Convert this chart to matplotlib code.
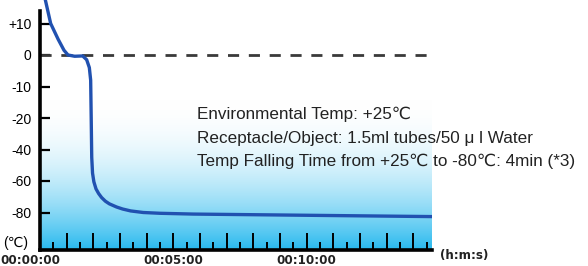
import numpy as np
import matplotlib
matplotlib.use("Agg")
import matplotlib.pyplot as plt
from matplotlib.colors import to_rgb
from matplotlib.ticker import FixedLocator, FuncFormatter, MultipleLocator
import matplotlib.transforms as mtransforms

# ---- data ----
time_min = [0.0, 0.2, 0.4, 0.68, 0.9, 1.05, 1.3, 1.6, 1.75, 1.85, 1.9, 1.92,
            1.94, 1.97, 2.02, 2.1, 2.2, 2.31, 2.45, 2.6, 2.87, 3.1, 3.4, 3.87,
            4.5, 5.75, 9.1, 14.7]
temp_c = [25.0, 17.5, 10.0, 5.0, 1.5, 0.0, -0.4, -0.3, -1.5, -4.0, -8.0, -20.0,
          -45.0, -55.0, -60.5, -65.0, -68.0, -70.5, -72.8, -74.5, -76.5, -77.8,
          -79.0, -80.0, -80.5, -81.0, -81.6, -82.6]
ytick_values = [10, 0, -10, -20, -40, -60, -80]
ytick_labels = ["+10", "0", "-10", "-20", "-40", "-60", "-80"]
xlabel_values = [0, 5, 10]
xtick_labels = ["00:00:00", "00:05:00", "00:10:00"]
info_lines = ["Environmental Temp: +25\u2103",
              "Receptacle/Object: 1.5ml tubes/50 \u03bc l Water",
              "Temp Falling Time from +25\u2103 to -80\u2103: 4min (*3)"]

FONT = ["Liberation Sans", "DejaVu Sans"]
plt.rcParams["font.family"] = FONT


def fwd(t):
    t = np.asarray(t, dtype=float)
    return np.where(t >= -20, t / 10.0, -2.0 + (t + 20.0) / 20.0)


def inv(u):
    u = np.asarray(u, dtype=float)
    return np.where(u >= -2, u * 10.0, -20.0 + (u + 2.0) * 20.0)


W, H = 588, 266
fig = plt.figure(figsize=(W / 100, H / 100), dpi=100)
ax = fig.add_axes([40 / W, (H - 250) / H, (432 - 40) / W, 250 / H])
ax.set_yscale("function", functions=(fwd, inv))

ytop = float(inv(55 / 31.5))
ybot = float(inv(-(250 - 55) / 31.5))

# gradient background
n = 256
f = np.linspace(0, 1, n)[:, None]  # 0 bottom -> 1 top
w = np.clip((0.6 - f) / 0.6, 0, 1) ** 2
cyan = np.array(to_rgb("#28B9EE"))
img = (1 - w)[..., None] * np.ones(3) + w[..., None] * cyan
img = np.repeat(img, 2, axis=1)
ax.imshow(img, extent=[0, 1, 0, 1], transform=ax.transAxes, aspect="auto",
          origin="lower", zorder=0, interpolation="bilinear")
ax.set_xlim(0, 14.7)
ax.set_ylim(ybot, ytop)

# zero dashed line
ax.axhline(0, color="#3a3a3a", lw=2.0, dashes=(4, 3.5), zorder=2)

# curve
ax.plot(time_min, temp_c, color="#2151B0", lw=2.4, zorder=3,
        solid_capstyle="round", solid_joinstyle="round")

# spines
for s in ["top", "right"]:
    ax.spines[s].set_visible(False)
ax.spines["left"].set_linewidth(2.6)
ax.spines["bottom"].set_linewidth(2.6)
ax.spines["left"].set_bounds(ybot, 14.0)
ax.spines["left"].set_zorder(4)
ax.spines["bottom"].set_zorder(4)

# y ticks
ax.yaxis.set_major_locator(FixedLocator(ytick_values))
ax.yaxis.set_minor_locator(FixedLocator([]))
ax.set_yticks(ytick_values)
ax.set_yticklabels(ytick_labels)
ax.tick_params(axis="y", direction="in", length=7, width=1.6, pad=6,
               labelsize=10, colors="black")

# x ticks
ax.xaxis.set_major_locator(MultipleLocator(1))
ax.xaxis.set_minor_locator(MultipleLocator(0.5))


def xfmt(v, pos):
    for val, lab in zip(xlabel_values, xtick_labels):
        if abs(v - val) < 1e-6:
            return lab
    return ""


ax.xaxis.set_major_formatter(FuncFormatter(xfmt))
ax.tick_params(axis="x", which="major", direction="in", length=12, width=1.4,
               pad=3)
ax.tick_params(axis="x", which="minor", direction="in", length=6, width=1.4)
for lab in ax.get_xticklabels():
    lab.set_fontfamily(["DejaVu Sans"])
    lab.set_fontweight("bold")
    lab.set_fontsize(8.6)
    lab.set_color("#222222")

fig.canvas.draw()
for lab in ax.get_xticklabels():
    if lab.get_text() == xtick_labels[0]:
        lab.set_transform(lab.get_transform() +
                          mtransforms.ScaledTranslation(-10 / 100, 0, fig.dpi_scale_trans))

# axis unit labels
fig.text(3 / W, 1 - 243 / H, "(\u2103)", fontsize=10, va="center", ha="left")
fig.text(440 / W, 1 - 256 / H, "(h:m:s)", fontsize=8.6, va="center", ha="left",
         fontweight="bold", family=["DejaVu Sans"], color="#222222")

# info text
for i, line in enumerate(info_lines):
    fig.text(197 / W, 1 - (114.5 + 23.5 * i) / H, line, fontsize=12.3,
             va="center", ha="left", color="#222222")

fig.savefig("out.png", dpi=100)
